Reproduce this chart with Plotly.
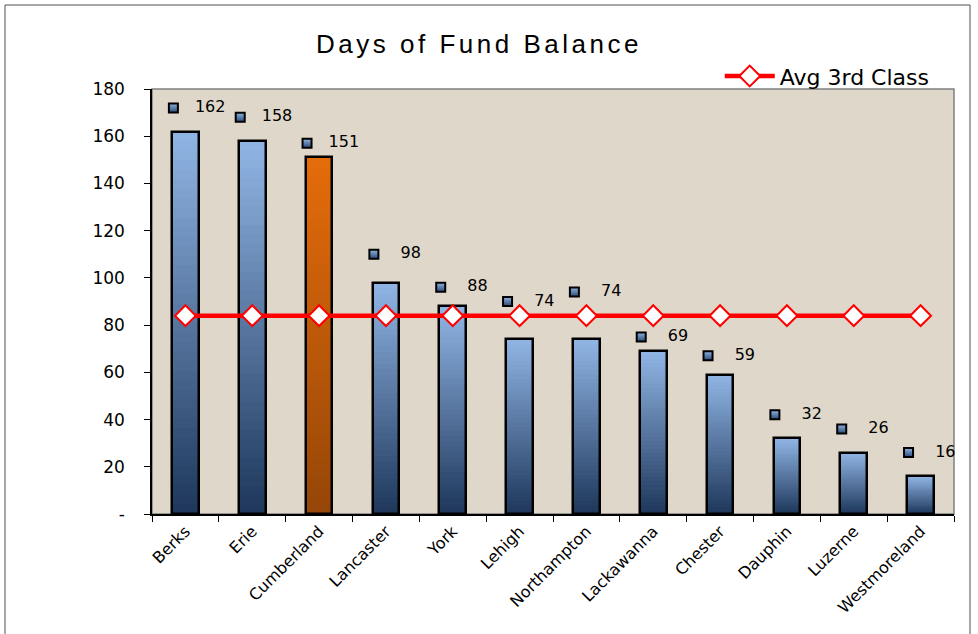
import plotly.graph_objects as go

# ---- data ----
counties = ["Berks", "Erie", "Cumberland", "Lancaster", "York", "Lehigh",
            "Northampton", "Lackawanna", "Chester", "Dauphin", "Luzerne", "Westmoreland"]
days_fund_balance = [162, 158, 151, 98, 88, 74, 74, 69, 59, 32, 26, 16]
avg_3rd_class = [84, 84, 84, 84, 84, 84, 84, 84, 84, 84, 84, 84]
highlight = "Cumberland"
y_tick_vals = [0, 20, 40, 60, 80, 100, 120, 140, 160, 180]
y_tick_text = ["-", "20", "40", "60", "80", "100", "120", "140", "160", "180"]

# ---- styles ----
FONT = "DejaVu Sans"
BLUE_TOP, BLUE_BOT = (143, 180, 227), (31, 56, 92)
ORANGE_TOP, ORANGE_BOT = (228, 108, 10), (150, 70, 8)
N_SEG = 40
BAR_W = 0.4
# vertical placement of each data label above its bar (data units, as placed in the original)
label_offsets = [10, 10, 6, 12, 8, 16, 20, 6, 8, 10, 10, 10]


def mix(c1, c2, t):
    return "rgb(%d,%d,%d)" % tuple(round(a + (b - a) * t) for a, b in zip(c1, c2))


fig = go.Figure()

# gradient bars: progressively shorter, darker bars drawn over each other
for k in range(N_SEG):
    t = k / (N_SEG - 1)
    cols = [mix(ORANGE_TOP, ORANGE_BOT, t) if c == highlight else mix(BLUE_TOP, BLUE_BOT, t)
            for c in counties]
    fig.add_trace(go.Bar(
        x=counties, y=[v * (N_SEG - k) / N_SEG for v in days_fund_balance],
        width=BAR_W, marker=dict(color=cols, line=dict(width=0)),
        showlegend=False, hoverinfo="skip"))

# bar outlines
fig.add_trace(go.Bar(
    x=counties, y=days_fund_balance, width=BAR_W,
    marker=dict(color="rgba(0,0,0,0)", line=dict(color="black", width=2.5)),
    showlegend=False, hoverinfo="skip"))

# average line
fig.add_trace(go.Scatter(
    x=counties, y=avg_3rd_class, mode="lines+markers", name="Avg 3rd Class",
    line=dict(color="#ff0000", width=4.5),
    marker=dict(symbol="diamond", size=16, color="white", line=dict(color="#ff0000", width=2))))

# data labels (legend-key square + value) on an overlaid numeric axis
idx = list(range(len(counties)))
label_y = [v + o for v, o in zip(days_fund_balance, label_offsets)]
fig.add_trace(go.Scatter(
    x=[i - 0.18 for i in idx], y=label_y, xaxis="x2",
    mode="markers", showlegend=False, hoverinfo="skip", cliponaxis=False,
    marker=dict(symbol="square", size=9, color="#8fb3e0",
                gradient=dict(type="vertical", color="#2a4a78"),
                line=dict(color="black", width=2))))
fig.add_trace(go.Scatter(
    x=[i + 0.37 for i in idx], y=label_y, xaxis="x2",
    mode="text", text=[str(v) for v in days_fund_balance], showlegend=False,
    hoverinfo="skip", cliponaxis=False,
    textfont=dict(family=FONT, size=16, color="black")))

fig.update_layout(
    width=978, height=634,
    margin=dict(l=152, r=24, t=89, b=120, autoexpand=False),
    paper_bgcolor="white", plot_bgcolor="#dfd7c9",
    barmode="overlay", bargap=0,
    font=dict(family=FONT, color="black"),
    title=dict(text="<span style='letter-spacing:3.5px'>Days of Fund Balance</span>",
               xref="container", yref="container", x=479 / 978, y=1 - 44 / 634,
               xanchor="center", yanchor="middle",
               font=dict(family="Liberation Sans", size=26, color="black")),
    xaxis=dict(type="category", range=[-0.5, len(counties) - 0.5], automargin=False,
               tickangle=-45, tickfont=dict(family=FONT, size=16),
               showline=True, linecolor="black", linewidth=1.5,
               ticks="outside", tickson="boundaries", ticklen=6, tickcolor="black",
               showgrid=False, zeroline=False),
    xaxis2=dict(overlaying="x", range=[-0.5, len(counties) - 0.5], visible=False),
    yaxis=dict(range=[0, 180], tickvals=y_tick_vals, ticktext=y_tick_text, automargin=False,
               tickfont=dict(family=FONT, size=17),
               showline=True, linecolor="black", linewidth=1.5,
               ticks="outside", ticklen=6, tickcolor="black", ticklabelstandoff=16,
               showgrid=False, zeroline=False),
    legend=dict(x=0.976, y=1.03, xanchor="right", yanchor="middle",
                bgcolor="rgba(0,0,0,0)", font=dict(family=FONT, size=22),
                itemwidth=50),
    shapes=[
        dict(type="rect", xref="paper", yref="paper", x0=0, x1=1, y0=0, y1=1,
             line=dict(color="#808080", width=1.5), layer="below"),
        dict(type="rect", xref="paper", yref="paper",
             x0=(5 - 152) / 802, x1=(970 - 152) / 802,
             y0=(514 - 660) / 425, y1=(514 - 5) / 425,
             line=dict(color="#505050", width=1)),
    ],
)

fig.write_html("out.html", config={"displayModeBar": False},
               post_script="document.body.style.margin='0';document.body.style.overflow='hidden';")
